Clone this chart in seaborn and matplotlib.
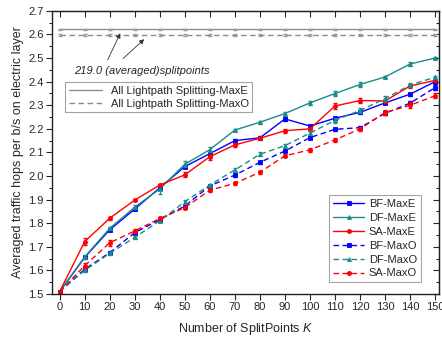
import numpy as np
import pandas as pd
import seaborn as sns
import matplotlib.pyplot as plt

# --------------------------------------------------------------------------- #
# Data
k = [0, 10, 20, 30, 40, 50, 60, 70, 80, 90, 100, 110, 120, 130, 140, 150]

bf_maxe = [1.51, 1.655, 1.772, 1.86, 1.95, 2.04, 2.095, 2.15, 2.162, 2.242, 2.212, 2.245, 2.27, 2.31, 2.347, 2.40]
df_maxe = [1.51, 1.657, 1.778, 1.868, 1.945, 2.05, 2.112, 2.195, 2.228, 2.265, 2.31, 2.35, 2.388, 2.42, 2.475, 2.50]
sa_maxe = [1.51, 1.722, 1.821, 1.898, 1.962, 2.005, 2.082, 2.132, 2.16, 2.192, 2.20, 2.297, 2.32, 2.318, 2.382, 2.405]
bf_maxo = [1.51, 1.605, 1.675, 1.76, 1.815, 1.873, 1.958, 2.004, 2.058, 2.106, 2.163, 2.198, 2.205, 2.266, 2.309, 2.375]
df_maxo = [1.51, 1.600, 1.672, 1.74, 1.81, 1.891, 1.962, 2.026, 2.092, 2.129, 2.182, 2.236, 2.278, 2.328, 2.386, 2.419]
sa_maxo = [1.51, 1.620, 1.717, 1.767, 1.82, 1.866, 1.94, 1.969, 2.016, 2.086, 2.111, 2.153, 2.20, 2.269, 2.30, 2.34]

# small error bars (half-widths)
bf_maxe_err = [0.004, 0.006, 0.006, 0.006, 0.008, 0.006, 0.008, 0.006, 0.006, 0.008, 0.006, 0.006, 0.006, 0.006, 0.006, 0.008]
df_maxe_err = [0.004, 0.006, 0.006, 0.008, 0.02, 0.012, 0.01, 0.006, 0.006, 0.006, 0.01, 0.01, 0.01, 0.006, 0.008, 0.006]
sa_maxe_err = [0.004, 0.015, 0.006, 0.006, 0.006, 0.01, 0.012, 0.008, 0.006, 0.008, 0.008, 0.012, 0.012, 0.01, 0.01, 0.008]
bf_maxo_err = [0.004, 0.006, 0.006, 0.006, 0.006, 0.006, 0.006, 0.008, 0.006, 0.006, 0.008, 0.006, 0.006, 0.008, 0.008, 0.01]
df_maxo_err = [0.004, 0.006, 0.006, 0.006, 0.006, 0.008, 0.006, 0.008, 0.008, 0.008, 0.008, 0.01, 0.01, 0.01, 0.008, 0.006]
sa_maxo_err = [0.004, 0.01, 0.012, 0.008, 0.006, 0.006, 0.006, 0.006, 0.006, 0.006, 0.008, 0.008, 0.008, 0.01, 0.012, 0.01]

all_maxe = 2.622
all_maxo = 2.598
annot_text = "219.0 (averaged)splitpoints"

series = [
    ("BF-MaxE", bf_maxe, bf_maxe_err, "#0000FF", "s", "-"),
    ("DF-MaxE", df_maxe, df_maxe_err, "#1A8C8C", "^", "-"),
    ("SA-MaxE", sa_maxe, sa_maxe_err, "#FF0000", "o", "-"),
    ("BF-MaxO", bf_maxo, bf_maxo_err, "#0000FF", "s", "--"),
    ("DF-MaxO", df_maxo, df_maxo_err, "#1A8C8C", "^", "--"),
    ("SA-MaxO", sa_maxo, sa_maxo_err, "#FF0000", "o", "--"),
]

# --------------------------------------------------------------------------- #
sns.set_style("ticks")
plt.rcParams['font.family'] = ['Liberation Sans', 'DejaVu Sans']
plt.rcParams['mathtext.fontset'] = 'custom'
plt.rcParams['mathtext.it'] = 'Liberation Sans:italic'

fig, ax = plt.subplots(figsize=(4.42, 3.41), dpi=100)
fig.subplots_adjust(left=0.118, right=0.993, bottom=0.138, top=0.968)

dash = (4, 2.5)

# reference lines: all lightpath splitting
ref = pd.DataFrame({"K": k, "MaxE": [all_maxe] * len(k), "MaxO": [all_maxo] * len(k)})
sns.lineplot(data=ref, x="K", y="MaxE", color="#8C8C8C", lw=1.0, ax=ax,
             label="All Lightpath Splitting-MaxE")
sns.lineplot(data=ref, x="K", y="MaxO", color="#8C8C8C", lw=1.0, ax=ax,
             label="All Lightpath Splitting-MaxO", dashes=False, linestyle="--")
ax.lines[-1].set_dashes(dash)
ax.errorbar(k, ref["MaxE"], yerr=0.003, fmt="none", ecolor="#9A9A9A", elinewidth=0.8, capsize=1.5)
ax.errorbar(k, ref["MaxO"], yerr=0.003, fmt="none", ecolor="#9A9A9A", elinewidth=0.8, capsize=1.5)
ref_handles, ref_labels = ax.get_legend_handles_labels()

# main series
main_handles = []
for name, vals, err, col, mk, ls in series:
    df = pd.DataFrame({"K": k, "v": vals})
    sns.lineplot(data=df, x="K", y="v", color=col, lw=1.0, marker=mk, markersize=2.9,
                 markeredgewidth=0.6, markeredgecolor=col, ax=ax, label=name)
    line = ax.lines[-1]
    if ls == "--":
        line.set_linestyle("--")
        line.set_dashes(dash)
    ax.errorbar(k, vals, yerr=err, fmt="none", ecolor=col, elinewidth=0.8, capsize=1.5)
    main_handles.append(line)

# legends
leg1 = ax.legend(ref_handles, ref_labels, loc="upper left", bbox_to_anchor=(0.034, 0.748),
                 fontsize=8, frameon=True, fancybox=False, edgecolor="#8C8C8C",
                 handlelength=3.0, borderpad=0.3, labelspacing=0.3, borderaxespad=0)
leg1.get_frame().set_linewidth(0.8)
ax.add_artist(leg1)
leg2 = ax.legend(main_handles, [s[0] for s in series], loc="lower right",
                 bbox_to_anchor=(0.953, 0.041), fontsize=8, frameon=True, fancybox=False,
                 edgecolor="#8C8C8C", handlelength=2.8, borderpad=0.35, labelspacing=0.35,
                 borderaxespad=0, handletextpad=0.4)
leg2.get_frame().set_linewidth(0.8)

# annotation with arrows
ax.text(5.6, 2.447, annot_text, fontsize=8, style="italic", va="center", ha="left")
ax.annotate("", xy=(24.7, 2.616), xytext=(18.7, 2.482),
            arrowprops=dict(arrowstyle="-|>", color="#333333", lw=0.6, mutation_scale=7))
ax.annotate("", xy=(34.6, 2.588), xytext=(24.5, 2.49),
            arrowprops=dict(arrowstyle="-|>", color="#333333", lw=0.6, mutation_scale=7))

# axes
ax.set_xlim(-3, 151.5)
ax.set_ylim(1.5, 2.7)
ax.set_xticks(range(0, 151, 10))
ax.set_yticks(np.arange(1.5, 2.71, 0.1))
ax.set_yticks(np.arange(1.55, 2.7, 0.1), minor=True)
ax.set_yticklabels([f"{v:.1f}" for v in np.arange(1.5, 2.71, 0.1)])
ax.tick_params(axis="both", which="major", labelsize=8, length=4, width=0.8, pad=2, direction="out")
ax.tick_params(axis="y", which="minor", length=2, width=0.8, direction="out")
ax.set_xlabel("Number of SplitPoints $K$", fontsize=9, labelpad=6)
ax.set_ylabel("Averaged traffic hops per b/s on electric layer", fontsize=9, labelpad=3)
for sp in ax.spines.values():
    sp.set_linewidth(1.0)
    sp.set_color("#222222")

# inward ticks on top and right
top = ax.secondary_xaxis("top")
top.set_xticks(range(0, 151, 10))
top.tick_params(direction="in", length=4, width=0.8, labeltop=False)
right = ax.secondary_yaxis("right")
right.set_yticks(np.arange(1.5, 2.71, 0.1))
right.set_yticks(np.arange(1.55, 2.7, 0.1), minor=True)
right.tick_params(which="major", direction="in", length=4, width=0.8, labelright=False)
right.tick_params(which="minor", direction="in", length=2, width=0.8)

plt.savefig("out.png", dpi=100)
